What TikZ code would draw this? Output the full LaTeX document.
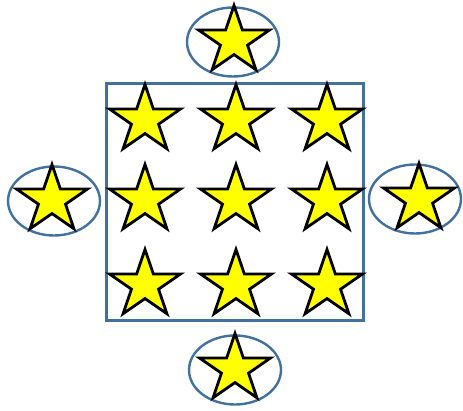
\documentclass[tikz,border=0pt]{standalone}
\usetikzlibrary{shapes.geometric}
\definecolor{frameblue}{RGB}{65,113,156}
\definecolor{staryellow}{RGB}{255,255,0}
\begin{document}
\begin{tikzpicture}[x=1pt,y=1pt,
  starnode/.style={star, star points=5, star point ratio=2.618, minimum size=71pt, inner sep=0pt, draw=black, line width=2.8pt, fill=staryellow, miter limit=10, xscale=1.05},
  ovalnode/.style={ellipse, minimum width=92pt, minimum height=69pt, inner sep=0pt, draw=frameblue, line width=2.4pt},
  framebox/.style={draw=frameblue, line width=2.4pt}]
\useasboundingbox (0,0) rectangle (463,410);
% ellipses
\node[ovalnode] (etop) at (233,368) {};
\node[ovalnode] (eleft) at (54,209) {};
\node[ovalnode] (eright) at (415,211) {};
\node[ovalnode] (ebot) at (235,40) {};
% square
\node[framebox, minimum width=257pt, minimum height=237pt, inner sep=0pt] (box) at (235,208) {};
% stars in square
\node[starnode] (s11) at (145,290) {};
\node[starnode] (s12) at (236,290) {};
\node[starnode] (s13) at (327,290) {};
\node[starnode] (s21) at (145,210) {};
\node[starnode] (s22) at (236,210) {};
\node[starnode] (s23) at (327,210) {};
\node[starnode] (s31) at (145,125) {};
\node[starnode] (s32) at (236,125) {};
\node[starnode] (s33) at (327,125) {};
% stars in ellipses
\node[starnode] (st) at (234,369) {};
\node[starnode] (sl) at (52,210) {};
\node[starnode] (sr) at (419,211) {};
\node[starnode] (sb) at (235,41) {};
\end{tikzpicture}
\end{document}
